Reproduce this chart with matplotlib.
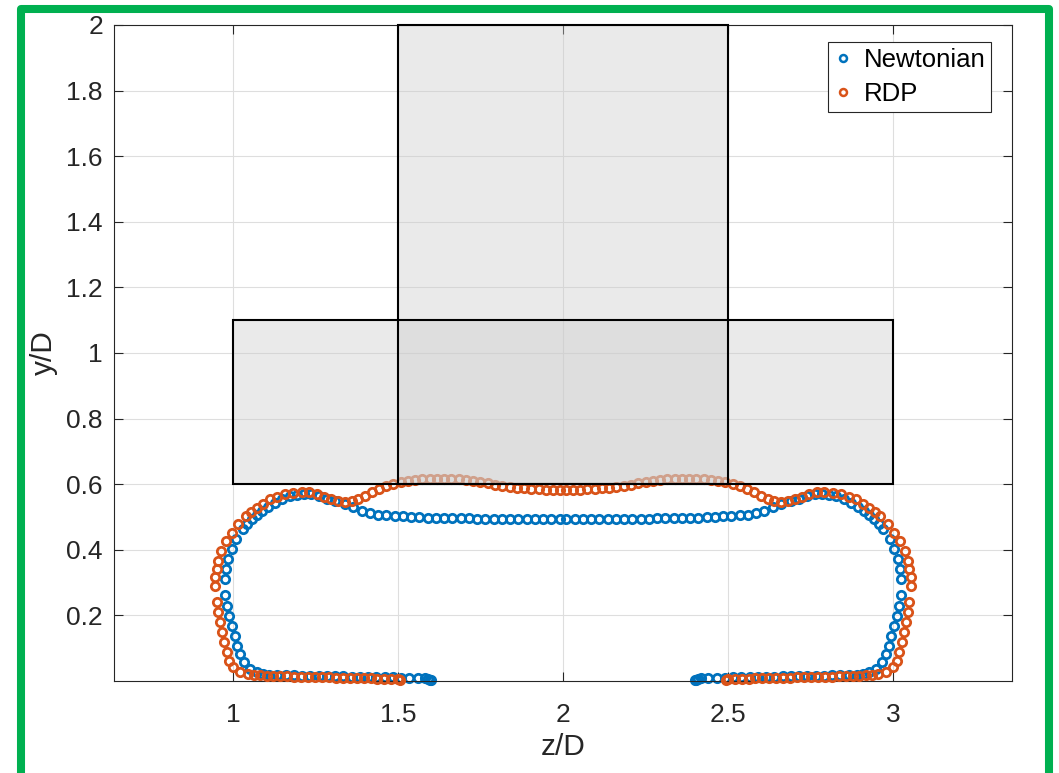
import matplotlib.pyplot as plt
from matplotlib.patches import Rectangle

plt.rcParams['font.family'] = ['Liberation Sans', 'DejaVu Sans']

# interface contour, Newtonian case (z/D, y/D), traced from left end to right end
newt_z = [1.600, 1.596, 1.590, 1.583, 1.560, 1.535, 1.510, 1.485, 1.460, 1.435, 1.410, 1.385,
          1.360, 1.335, 1.310, 1.285, 1.260, 1.235, 1.210, 1.185, 1.160, 1.135, 1.110, 1.090,
          1.072, 1.052, 1.034, 1.021, 1.014, 1.006, 0.998, 0.989, 0.983, 0.976,
          0.976, 0.979, 0.986, 0.998, 1.011, 1.031, 1.044, 1.057, 1.072, 1.087, 1.107, 1.127,
          1.150, 1.173, 1.195, 1.215, 1.238,
          1.260, 1.285, 1.310, 1.339, 1.365, 1.390, 1.415, 1.440, 1.465, 1.490, 1.515, 1.540,
          1.565, 1.590, 1.615, 1.640, 1.665, 1.690, 1.715, 1.740, 1.765, 1.790, 1.815, 1.840,
          1.865, 1.890, 1.915, 1.940, 1.965, 1.990,
          2.010, 2.035, 2.060, 2.085, 2.110, 2.135, 2.160, 2.185, 2.210, 2.235, 2.260, 2.285,
          2.310, 2.335, 2.360, 2.385, 2.410, 2.435, 2.460, 2.485, 2.510, 2.535, 2.560, 2.585,
          2.610, 2.635, 2.661, 2.690, 2.715, 2.740,
          2.762, 2.785, 2.805, 2.827, 2.850, 2.873, 2.893, 2.913, 2.928, 2.943, 2.956, 2.969,
          2.989, 3.002, 3.014, 3.021, 3.024,
          3.024, 3.017, 3.011, 3.002, 2.994, 2.986, 2.979, 2.966, 2.948, 2.928,
          2.910, 2.890, 2.865, 2.840, 2.815, 2.790, 2.765, 2.740, 2.715, 2.690, 2.665, 2.640,
          2.615, 2.590, 2.565, 2.540, 2.515, 2.490, 2.465, 2.440, 2.417, 2.410, 2.404, 2.400]
newt_y = [0.002, 0.004, 0.006, 0.008, 0.009, 0.010, 0.010, 0.011, 0.011, 0.012, 0.012, 0.013,
          0.013, 0.014, 0.014, 0.015, 0.015, 0.016, 0.016, 0.017, 0.017, 0.018, 0.019, 0.021,
          0.026, 0.037, 0.057, 0.082, 0.107, 0.138, 0.168, 0.199, 0.229, 0.262,
          0.310, 0.341, 0.371, 0.402, 0.432, 0.463, 0.479, 0.493, 0.506, 0.518, 0.532, 0.544,
          0.555, 0.564, 0.568, 0.570, 0.569,
          0.563, 0.556, 0.548, 0.539, 0.529, 0.519, 0.511, 0.507, 0.505, 0.503, 0.502, 0.500,
          0.499, 0.498, 0.497, 0.497, 0.496, 0.496, 0.496, 0.495, 0.495, 0.495, 0.495, 0.495,
          0.495, 0.495, 0.495, 0.495, 0.495, 0.495,
          0.495, 0.495, 0.495, 0.495, 0.495, 0.495, 0.495, 0.495, 0.495, 0.495, 0.495, 0.496,
          0.496, 0.496, 0.497, 0.497, 0.498, 0.499, 0.500, 0.502, 0.503, 0.505, 0.507, 0.511,
          0.519, 0.529, 0.539, 0.548, 0.556, 0.563,
          0.569, 0.570, 0.568, 0.564, 0.555, 0.544, 0.532, 0.518, 0.506, 0.493, 0.479, 0.463,
          0.432, 0.402, 0.371, 0.341, 0.310,
          0.262, 0.229, 0.199, 0.168, 0.138, 0.107, 0.082, 0.057, 0.037, 0.026,
          0.021, 0.019, 0.018, 0.017, 0.017, 0.016, 0.016, 0.015, 0.015, 0.014, 0.014, 0.013,
          0.013, 0.012, 0.012, 0.011, 0.011, 0.010, 0.010, 0.009, 0.008, 0.006, 0.004, 0.002]

# interface contour, RDP case
rdp_z = [1.506, 1.500, 1.480, 1.459, 1.438, 1.417, 1.396, 1.375, 1.354, 1.333, 1.312, 1.291,
         1.270, 1.249, 1.228, 1.207, 1.186, 1.165, 1.144, 1.123, 1.102, 1.082, 1.063,
         1.046, 1.021, 1.001, 0.989, 0.981, 0.974, 0.966, 0.961, 0.956, 0.951,
         0.945, 0.947, 0.952, 0.956, 0.964, 0.978, 0.996, 1.016, 1.041, 1.056, 1.072, 1.092,
         1.112, 1.135, 1.158, 1.183, 1.208, 1.232,
         1.255, 1.276, 1.297, 1.318, 1.340, 1.360, 1.380, 1.400, 1.420, 1.442, 1.464, 1.486,
         1.508, 1.530, 1.552, 1.574, 1.596, 1.618, 1.640, 1.662, 1.684, 1.706, 1.728, 1.750,
         1.772, 1.794, 1.816, 1.838, 1.860, 1.882, 1.904, 1.926, 1.948, 1.970, 1.990,
         2.010, 2.030, 2.052, 2.074, 2.096, 2.118, 2.140, 2.162, 2.184, 2.206, 2.228, 2.250,
         2.272, 2.294, 2.316, 2.338, 2.360, 2.382, 2.404, 2.426, 2.448, 2.470, 2.492, 2.514,
         2.536, 2.558, 2.580, 2.600, 2.620, 2.640, 2.660, 2.682, 2.703, 2.724, 2.745,
         2.768, 2.792, 2.817, 2.842, 2.865, 2.888, 2.908, 2.928, 2.944, 2.959, 2.984, 3.004,
         3.022, 3.036, 3.044, 3.048, 3.053, 3.055,
         3.049, 3.044, 3.039, 3.034, 3.026, 3.019, 3.011, 2.999, 2.979, 2.954,
         2.937, 2.918, 2.898, 2.877, 2.856, 2.835, 2.814, 2.793, 2.772, 2.751, 2.730, 2.709,
         2.688, 2.667, 2.646, 2.625, 2.604, 2.583, 2.562, 2.541, 2.520, 2.500, 2.494]
rdp_y = [0.003, 0.005, 0.006, 0.007, 0.007, 0.008, 0.008, 0.009, 0.009, 0.010, 0.010, 0.011,
         0.011, 0.012, 0.012, 0.013, 0.013, 0.014, 0.014, 0.015, 0.016, 0.017, 0.018,
         0.021, 0.028, 0.042, 0.062, 0.087, 0.118, 0.148, 0.179, 0.209, 0.240,
         0.290, 0.316, 0.341, 0.366, 0.397, 0.427, 0.452, 0.478, 0.503, 0.516, 0.528, 0.541,
         0.554, 0.562, 0.569, 0.574, 0.577, 0.575,
         0.569, 0.561, 0.555, 0.549, 0.545, 0.548, 0.555, 0.565, 0.575, 0.585, 0.593, 0.600,
         0.606, 0.610, 0.613, 0.615, 0.616, 0.617, 0.617, 0.616, 0.615, 0.613, 0.610, 0.607,
         0.603, 0.599, 0.595, 0.592, 0.589, 0.587, 0.585, 0.584, 0.583, 0.583, 0.583,
         0.583, 0.583, 0.583, 0.584, 0.585, 0.587, 0.589, 0.592, 0.595, 0.599, 0.603, 0.607,
         0.610, 0.613, 0.615, 0.616, 0.617, 0.617, 0.616, 0.615, 0.613, 0.610, 0.606, 0.600,
         0.593, 0.585, 0.575, 0.565, 0.555, 0.548, 0.545, 0.549, 0.555, 0.561, 0.569,
         0.575, 0.577, 0.574, 0.569, 0.562, 0.554, 0.541, 0.528, 0.516, 0.503, 0.478, 0.452,
         0.427, 0.397, 0.366, 0.341, 0.316, 0.290,
         0.240, 0.209, 0.179, 0.148, 0.118, 0.087, 0.062, 0.042, 0.028, 0.021,
         0.018, 0.017, 0.016, 0.015, 0.014, 0.014, 0.013, 0.013, 0.012, 0.012, 0.011, 0.011,
         0.010, 0.010, 0.009, 0.009, 0.008, 0.008, 0.007, 0.007, 0.006, 0.005, 0.003]

# solid blocks: (z from, z to), (y from, y to)
blocks = [((1.0, 3.0), (0.6, 1.1)),
          ((1.5, 2.5), (0.6, 2.0))]

x_ticks = [1, 1.5, 2, 2.5, 3]
x_ticklabels = ['1', '1.5', '2', '2.5', '3']
y_ticks = [0.2, 0.4, 0.6, 0.8, 1.0, 1.2, 1.4, 1.6, 1.8, 2.0]
y_ticklabels = ['0.2', '0.4', '0.6', '0.8', '1', '1.2', '1.4', '1.6', '1.8', '2']

W, H = 1059, 773
fig = plt.figure(figsize=(W / 100, H / 100), dpi=100)
ax = fig.add_axes([114 / W, 92 / H, 898 / W, 656 / H])

ax.plot(newt_z, newt_y, linestyle='none', marker='o', markersize=6.0,
        markerfacecolor='none', markeredgecolor='#0072BD', markeredgewidth=2.0,
        label='Newtonian', clip_on=False, zorder=2)
ax.plot(rdp_z, rdp_y, linestyle='none', marker='o', markersize=6.0,
        markerfacecolor='none', markeredgecolor='#D95319', markeredgewidth=2.0,
        label='RDP', clip_on=False, zorder=3)

# translucent fill over the contours, solid outline on top
for (z0, z1), (y0, y1) in blocks:
    ax.add_patch(Rectangle((z0, y0), z1 - z0, y1 - y0, facecolor=(0.8, 0.8, 0.8),
                           alpha=0.4, edgecolor='none', zorder=4))
for (z0, z1), (y0, y1) in blocks:
    ax.add_patch(Rectangle((z0, y0), z1 - z0, y1 - y0, facecolor='none',
                           edgecolor='black', linewidth=1.5, zorder=5, clip_on=False))

ax.set_xlim(0.64, 3.36)
ax.set_ylim(0, 2)
ax.set_xticks(x_ticks)
ax.set_xticklabels(x_ticklabels)
ax.set_yticks(y_ticks)
ax.set_yticklabels(y_ticklabels)

ax.grid(True, color='#dedede', linewidth=0.8, zorder=0)
ax.set_axisbelow(True)
for s in ax.spines.values():
    s.set_color('#262626')
    s.set_linewidth(0.8)
ax.tick_params(direction='in', length=6.5, width=0.8, color='#262626',
               top=True, right=True, labelsize=19, labelcolor='#262626')
ax.tick_params(axis='x', pad=15.5)
ax.tick_params(axis='y', pad=8)

ax.set_xlabel('z/D', fontsize=21.5, color='#262626', labelpad=5)
ax.set_ylabel('y/D', fontsize=21.5, color='#262626', labelpad=6)

leg = ax.legend(loc='upper right', bbox_to_anchor=(991 / W, 1 - 42 / H),
                bbox_transform=fig.transFigure, fontsize=18.5, numpoints=1,
                handlelength=0.7, handletextpad=0.45, borderpad=0.22,
                labelspacing=0.4, borderaxespad=0, fancybox=False,
                framealpha=1, edgecolor='#262626')
leg.get_frame().set_linewidth(0.8)
for h in leg.legend_handles:
    h.set_markersize(5)
    h.set_markeredgewidth(1.8)

# green frame round the whole figure
fig.patches.append(Rectangle((21 / W, -2 / H), 1028 / W, 766 / H, transform=fig.transFigure,
                             facecolor='none', edgecolor='#00B050', linewidth=5.8,
                             joinstyle='round'))

fig.savefig('out.png', dpi=100)
